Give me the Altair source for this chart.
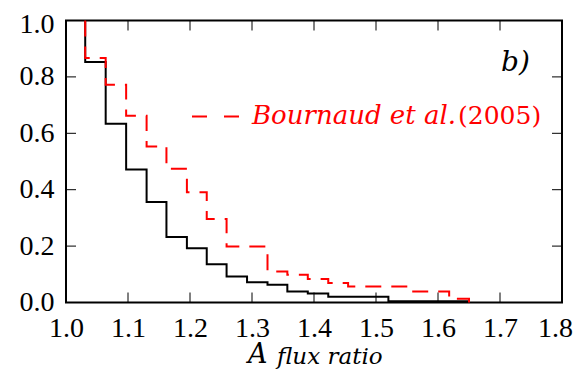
import altair as alt
import pandas as pd

# ---- data ----
bin_edges = [1.031, 1.064, 1.097, 1.130, 1.162, 1.195, 1.227, 1.259, 1.292, 1.325,
             1.357, 1.390, 1.423, 1.455, 1.488, 1.520, 1.553, 1.585, 1.618, 1.650]
black_values = [0.853, 0.634, 0.472, 0.356, 0.232, 0.192, 0.136, 0.092, 0.072, 0.063,
                0.039, 0.032, 0.020, 0.020, 0.020, 0.004, 0.004, 0.004, 0.004]
red_values = [0.867, 0.772, 0.662, 0.553, 0.474, 0.391, 0.296, 0.199, 0.199, 0.110,
              0.098, 0.083, 0.069, 0.057, 0.057, 0.057, 0.039, 0.039, 0.013]
start_value = 1.0

x_ticks = [1.0, 1.1, 1.2, 1.3, 1.4, 1.5, 1.6, 1.7, 1.8]
y_ticks = [0.0, 0.2, 0.4, 0.6, 0.8, 1.0]

legend_name = "Bournaud et al."
legend_year = "(2005)"
panel_label = "b)"
xlabel_main = "A"
xlabel_sub = "flux ratio"

W, H = 496, 282
TICK = 10


def step_frame(edges, vals):
    xs = [edges[0]] + edges[:-1] + [edges[-1], edges[-1]]
    ys = [start_value] + vals + [vals[-1], 0.0]
    return pd.DataFrame({"x": xs, "y": ys, "i": list(range(len(xs)))})


xscale = alt.Scale(domain=[1.0, 1.8], nice=False, zero=False)
yscale = alt.Scale(domain=[0.0, 1.0], nice=False)

xaxis = alt.Axis(values=x_ticks, format=".1f", title=None, ticks=False, domain=False,
                 grid=False, labelFlush=False, labelOverlap=False, labelPadding=12,
                 labelOffset={"condition": {"test": "datum.value > 1.75", "value": -7}, "value": 0})
yaxis = alt.Axis(values=y_ticks, format=".1f", title=None, ticks=False, domain=False,
                 grid=False, labelOverlap=False, labelPadding=12,
                 labelOffset={"condition": {"test": "datum.value > 0.95", "value": 4}, "value": 0})

black = alt.Chart(step_frame(bin_edges, black_values)).mark_line(
    interpolate="step-after", color="black", strokeWidth=2
).encode(
    x=alt.X("x:Q", scale=xscale, axis=xaxis),
    y=alt.Y("y:Q", scale=yscale, axis=yaxis),
    order="i:Q",
)

red = alt.Chart(step_frame(bin_edges, red_values)).mark_line(
    interpolate="step-after", color="#ff0000", strokeWidth=2, strokeDash=[16, 10]
).encode(
    x=alt.X("x:Q", scale=xscale),
    y=alt.Y("y:Q", scale=yscale),
    order="i:Q",
)

xt = pd.DataFrame({"v": x_ticks})
yt = pd.DataFrame({"v": y_ticks})
tick_bottom = alt.Chart(xt).mark_rule(color="black", strokeWidth=1).encode(
    x=alt.X("v:Q", scale=xscale), y=alt.value(H), y2=alt.value(H - TICK))
tick_top = alt.Chart(xt).mark_rule(color="black", strokeWidth=1).encode(
    x=alt.X("v:Q", scale=xscale), y=alt.value(0), y2=alt.value(TICK))
tick_left = alt.Chart(yt).mark_rule(color="black", strokeWidth=1).encode(
    y=alt.Y("v:Q", scale=yscale), x=alt.value(0), x2=alt.value(TICK))
tick_right = alt.Chart(yt).mark_rule(color="black", strokeWidth=1).encode(
    y=alt.Y("v:Q", scale=yscale), x=alt.value(W), x2=alt.value(W - TICK))

one = pd.DataFrame({"k": [0]})
legend_line = alt.Chart(one).mark_rule(color="#ff0000", strokeWidth=2, strokeDash=[15, 17]).encode(
    x=alt.value(126), x2=alt.value(174), y=alt.value(96), y2=alt.value(96))
legend_text1 = alt.Chart(one).mark_text(
    text=legend_name, font="DejaVu Serif", fontStyle="italic", fontSize=26,
    color="#ff0000", align="left", baseline="alphabetic"
).encode(x=alt.value(186), y=alt.value(103))
legend_text2 = alt.Chart(one).mark_text(
    text=legend_year, font="DejaVu Serif", fontSize=25,
    color="#ff0000", align="left", baseline="alphabetic"
).encode(x=alt.value(392), y=alt.value(103))
panel = alt.Chart(one).mark_text(
    text=panel_label, font="DejaVu Serif", fontStyle="italic", fontSize=28,
    color="black", align="left", baseline="alphabetic"
).encode(x=alt.value(435), y=alt.value(50))
xl_main = alt.Chart(one).mark_text(
    text=xlabel_main, font="DejaVu Serif", fontStyle="italic", fontSize=27,
    color="black", align="left", baseline="alphabetic"
).encode(x=alt.value(182), y=alt.value(342))
xl_sub = alt.Chart(one).mark_text(
    text=xlabel_sub, font="DejaVu Serif", fontStyle="italic", fontSize=23,
    color="black", align="left", baseline="alphabetic"
).encode(x=alt.value(211), y=alt.value(343))

chart = alt.layer(
    black, red, tick_bottom, tick_top, tick_left, tick_right,
    legend_line, legend_text1, legend_text2, panel, xl_main, xl_sub
).properties(
    width=W, height=H,
    autosize="none",
    padding={"left": 58, "top": 12.5, "right": 12, "bottom": 66},
).configure_view(
    stroke="black", strokeWidth=2
).configure_axis(
    labelFont="Liberation Serif", labelFontSize=28, labelColor="black"
)

chart.save("out.html", embed_options={"renderer": "svg", "actions": False})
